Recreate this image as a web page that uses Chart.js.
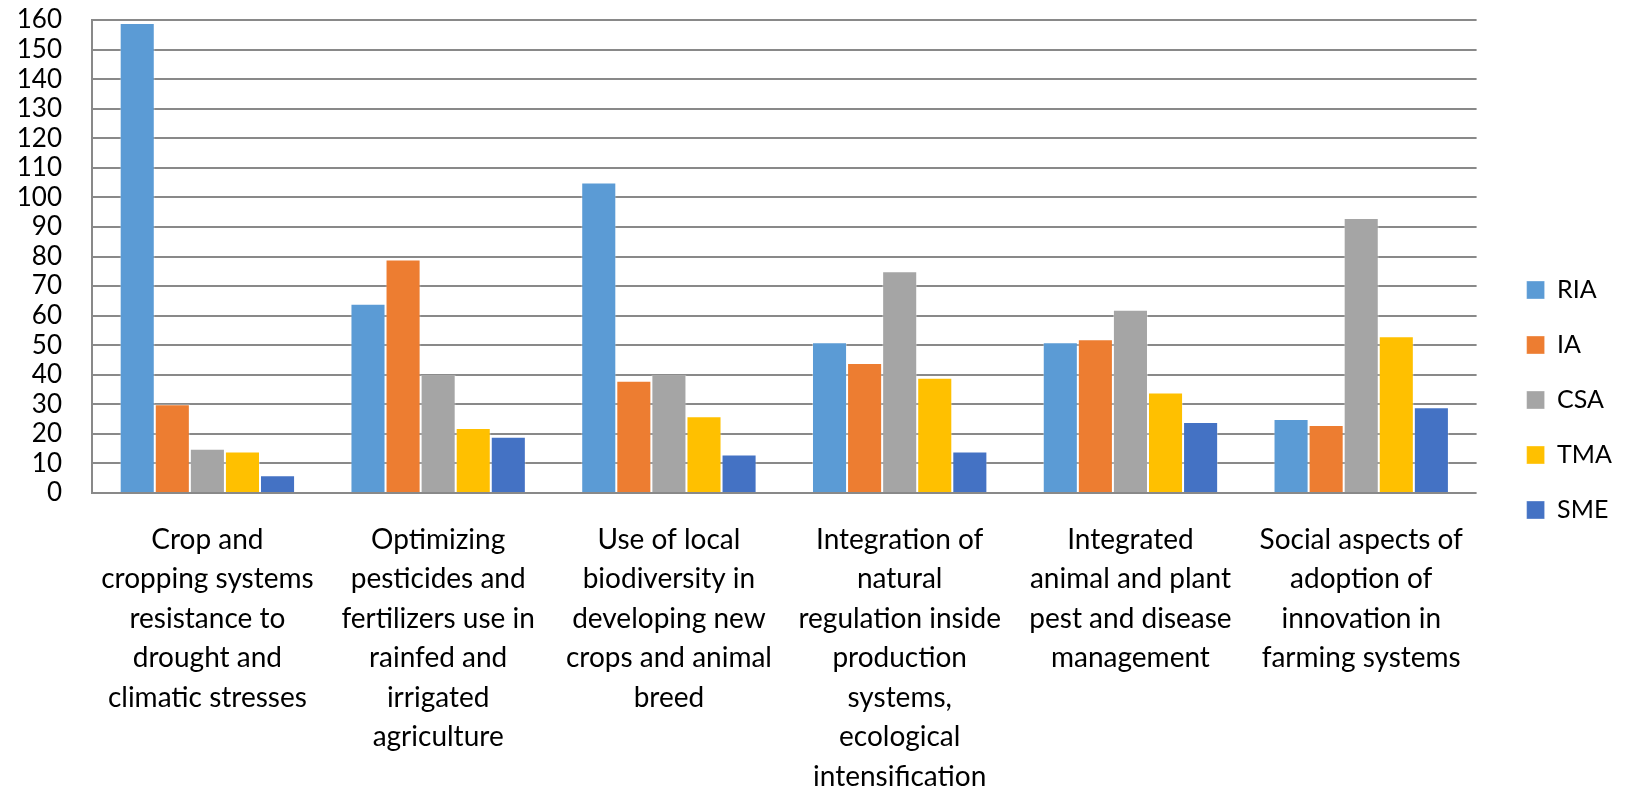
<!DOCTYPE html>
<html>
<head>
<meta charset="utf-8">
<script src="https://cdn.jsdelivr.net/npm/chart.js@4.4.0/dist/chart.umd.min.js"></script>
<style>
  html, body { margin: 0; padding: 0; background: #fff; }
  #wrap { width: 1627px; height: 788px; }
</style>
</head>
<body>
<div id="wrap"><canvas id="grafico" width="1627" height="788"></canvas></div>
<script>
// categorias (con saltos de linea como en la figura)
const categorias = [
  ["Crop and", "cropping systems", "resistance to", "drought and", "climatic stresses"],
  ["Optimizing", "pesticides and", "fertilizers use in", "rainfed and", "irrigated", "agriculture"],
  ["Use of local", "biodiversity in", "developing new", "crops and animal", "breed"],
  ["Integration of", "natural", "regulation inside", "production", "systems,", "ecological", "intensification"],
  ["Integrated", "animal and plant", "pest and disease", "management"],
  ["Social aspects of", "adoption of", "innovation in", "farming systems"]
];

const valoresRIA = [159, 64, 105, 51, 51, 25];
const valoresIA  = [30, 79, 38, 44, 52, 23];
const valoresCSA = [15, 40, 40, 75, 62, 93];
const valoresTMA = [14, 22, 26, 39, 34, 53];
const valoresSME = [6, 19, 13, 14, 24, 29];

const gris = "#898989";
const fuente = "Lato";

const ctx = document.getElementById("grafico");
new Chart(ctx, {
  type: "bar",
  data: {
    labels: categorias,
    datasets: [
      { label: "RIA", data: valoresRIA, backgroundColor: "#5B9BD5" },
      { label: "IA",  data: valoresIA,  backgroundColor: "#ED7D31" },
      { label: "CSA", data: valoresCSA, backgroundColor: "#A5A5A5" },
      { label: "TMA", data: valoresTMA, backgroundColor: "#FFC000" },
      { label: "SME", data: valoresSME, backgroundColor: "#4472C4" }
    ].map(d => Object.assign(d, {
      yAxisID: "y",
      borderWidth: 1,
      borderColor: "rgba(255,255,255,0.35)",
      barPercentage: 1,
      categoryPercentage: 0.76
    }))
  },
  options: {
    responsive: false,
    animation: false,
    layout: { padding: { top: 12, right: 5, bottom: 0, left: 0 } },
    plugins: {
      tooltip: { enabled: false },
      legend: {
        position: "right",
        labels: {
          boxWidth: 18,
          boxHeight: 18,
          padding: 30,
          color: "#000",
          font: { family: fuente, size: 25 }
        }
      }
    },
    scales: {
      x: {
        grid: { display: false },
        border: { display: false },
        ticks: {
          color: "#000",
          maxRotation: 0,
          autoSkip: false,
          padding: 19,
          font: { family: fuente, size: 28, lineHeight: 1.41 }
        },
        afterFit: s => { s.height = 295; }
      },
      y: {
        min: 0,
        max: 160,
        grid: { color: gris, lineWidth: 2, drawTicks: false },
        border: { display: true, color: gris, width: 2 },
        ticks: {
          stepSize: 10,
          autoSkip: false,
          color: "#000",
          padding: 30,
          font: { family: fuente, size: 26 }
        },
        afterFit: s => {
          s.width = 92;
          // el area empieza en y=20 aunque la leyenda arranque mas arriba
          s.paddingTop = 20;
          s.paddingBottom = 10;
        }
      },
      // eje vacio para dejar hueco entre el grafico y la leyenda
      y2: {
        position: "right",
        grid: { display: false },
        border: { display: false },
        ticks: { display: false },
        afterFit: s => { s.width = 20; }
      }
    }
  }
});
</script>
</body>
</html>
